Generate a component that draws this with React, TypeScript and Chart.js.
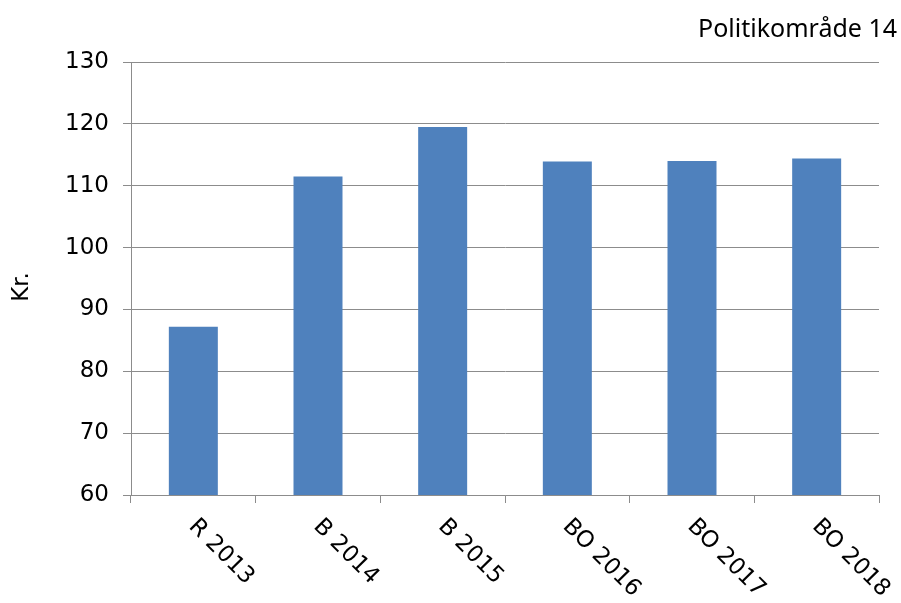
import React, { useEffect, useRef } from "react";
import { Chart, registerables } from "chart.js";

Chart.register(...registerables);

const categories = ["R 2013", "B 2014", "B 2015", "BO 2016", "BO 2017", "BO 2018"];
const values = [87.2, 111.5, 119.5, 113.9, 114.0, 114.4];
const chartTitle = "Politikområde 14";
const yAxisTitle = "Kr.";
const yMin = 60;
const yMax = 130;
const yStep = 10;

const GRID = "#8c8c8c";
const BAR = "#4F81BD";

export default function App() {
  const ref = useRef<HTMLCanvasElement | null>(null);

  useEffect(() => {
    if (!ref.current) return;
    const labelPlugin = {
      id: "customLabels",
      afterDraw(chart: any) {
        const ctx = chart.ctx;
        const xs = chart.scales.x;
        ctx.save();
        ctx.fillStyle = "#000";
        ctx.font = "23px 'DejaVu Sans'";
        ctx.textAlign = "left";
        ctx.textBaseline = "middle";
        categories.forEach((lab, i) => {
          const x = xs.getPixelForValue(i);
          ctx.save();
          ctx.translate(x - 1, 523);
          ctx.rotate(Math.PI / 4);
          ctx.fillText(lab, 0, 0);
          ctx.restore();
        });
        // y axis title
        ctx.save();
        ctx.translate(22, 287);
        ctx.rotate(-Math.PI / 2);
        ctx.textAlign = "center";
        ctx.textBaseline = "middle";
        ctx.fillText(yAxisTitle, 0, 0);
        ctx.restore();
        // chart title
        ctx.font = "25px 'Noto Sans'";
        ctx.textAlign = "right";
        ctx.textBaseline = "alphabetic";
        ctx.fillText(chartTitle, 897, 37);
        ctx.restore();
      },
    };

    const chart = new Chart(ref.current, {
      type: "bar",
      data: {
        labels: categories,
        datasets: [
          {
            data: values,
            backgroundColor: BAR,
            borderWidth: 0,
            barPercentage: 0.393,
            categoryPercentage: 1,
          },
        ],
      },
      options: {
        animation: false,
        responsive: false,
        maintainAspectRatio: false,
        layout: { padding: { left: 0, right: 22, top: 62, bottom: 0 } },
        plugins: {
          legend: { display: false },
          tooltip: { enabled: false },
          title: { display: false },
        },
        scales: {
          x: {
            grid: {
              offset: true,
              drawOnChartArea: false,
              drawTicks: true,
              tickLength: 8,
              color: GRID,
            },
            border: { color: GRID },
            ticks: { display: false },
            afterFit: (s: any) => {
              s.height = 108;
            },
          },
          y: {
            min: yMin,
            max: yMax,
            ticks: {
              stepSize: yStep,
              color: "#000",
              font: { family: "'DejaVu Sans'", size: 23 },
              padding: 14,
            },
            grid: { color: GRID, tickLength: 8 },
            border: { color: GRID },
            afterFit: (s: any) => {
              s.width = 131;
            },
          },
        },
      },
      plugins: [labelPlugin],
    });
    return () => chart.destroy();
  }, []);

  return (
    <div style={{ position: "fixed", left: 0, top: 0, width: 901, height: 603, background: "#fff" }}>
      <canvas ref={ref} width={901} height={603} style={{ width: 901, height: 603, display: "block" }} />
    </div>
  );
}
